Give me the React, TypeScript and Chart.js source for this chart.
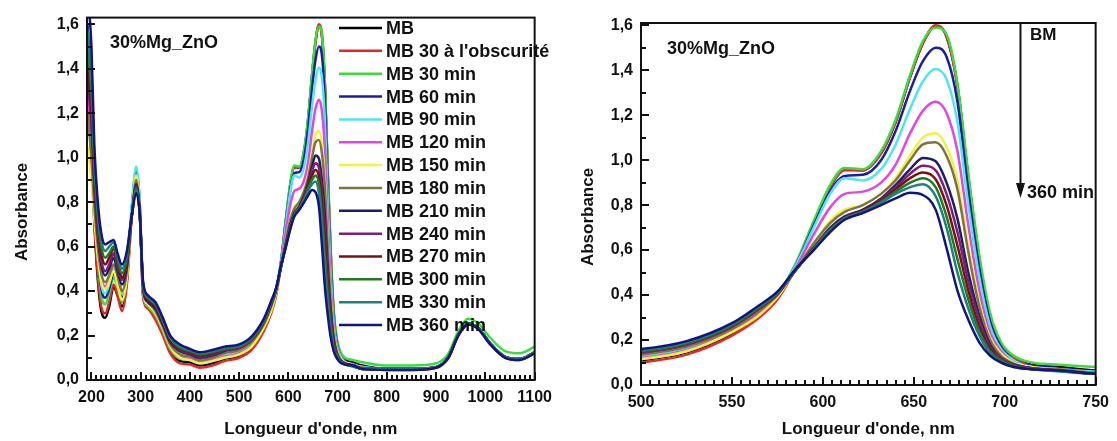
import React, { useEffect, useRef } from "react";
import { Chart, registerables } from "chart.js";

Chart.register(...registerables);

const FONT = '"Liberation Sans", Arial, Helvetica, sans-serif';

// Wavelength grid (nm)
const WAVELENGTHS = [
  192, 200, 206, 213, 220, 228, 236, 245, 253, 262, 272, 282, 291, 298, 305, 315, 330, 345, 360, 380, 400, 420, 445, 470,
  500, 525, 550, 565, 575, 585, 595, 604, 612, 622, 632, 640, 648, 655, 662, 668, 674, 680, 686, 692, 698, 705, 715, 730, 750,
  800, 850, 900, 925, 945, 965, 985, 1010, 1040, 1070, 1100,
];

const SERIES_LABELS = [
  "MB",
  "MB 30 à l'obscurité",
  "MB 30 min",
  "MB 60 min",
  "MB 90 min",
  "MB 120 min",
  "MB 150 min",
  "MB 180 min",
  "MB 210 min",
  "MB 240 min",
  "MB 270 min",
  "MB 300 min",
  "MB 330 min",
  "MB 360 min",
];

const SERIES_COLORS = [
  "#000000",
  "#e8262a",
  "#3ddc3d",
  "#1c1ca8",
  "#4fe6f0",
  "#e544e0",
  "#f2f23c",
  "#7d7443",
  "#1e1e66",
  "#7d1d7d",
  "#7a1010",
  "#217a21",
  "#1f8080",
  "#14147e",
];

const MB_0 = [
  1.3, 1.0, 0.7, 0.45, 0.31, 0.28, 0.33, 0.42, 0.38, 0.33, 0.45, 0.75, 0.93, 0.78, 0.38, 0.33, 0.28, 0.21, 0.13, 0.085, 0.08, 0.065, 0.075, 0.095,
  0.11, 0.145, 0.23, 0.31, 0.39, 0.53, 0.72, 0.88, 0.96, 0.955, 1.03, 1.17, 1.37, 1.52, 1.595, 1.55, 1.33, 0.92, 0.56, 0.3, 0.18, 0.12, 0.09, 0.08, 0.065,
  0.05, 0.05, 0.058, 0.104, 0.204, 0.254, 0.234, 0.164, 0.104, 0.094, 0.124,
];
const MB_DARK30 = [
  1.38, 1.05, 0.72, 0.47, 0.33, 0.3, 0.35, 0.43, 0.38, 0.31, 0.43, 0.74, 0.94, 0.78, 0.37, 0.32, 0.27, 0.2, 0.12, 0.075, 0.07, 0.055, 0.065, 0.085,
  0.1, 0.135, 0.22, 0.3, 0.38, 0.52, 0.72, 0.88, 0.955, 0.955, 1.03, 1.17, 1.37, 1.52, 1.6, 1.55, 1.33, 0.92, 0.56, 0.3, 0.18, 0.12, 0.085, 0.07, 0.055,
  0.045, 0.045, 0.055, 0.1, 0.2, 0.25, 0.23, 0.16, 0.1, 0.09, 0.12,
];
const MB_30 = [
  1.55, 1.25, 0.85, 0.55, 0.38, 0.34, 0.39, 0.46, 0.42, 0.35, 0.47, 0.77, 0.95, 0.8, 0.39, 0.33, 0.29, 0.22, 0.14, 0.095, 0.09, 0.075, 0.085, 0.1,
  0.115, 0.15, 0.235, 0.32, 0.4, 0.54, 0.73, 0.89, 0.965, 0.96, 1.04, 1.18, 1.38, 1.53, 1.59, 1.56, 1.34, 0.94, 0.58, 0.32, 0.19, 0.13, 0.1, 0.09, 0.08,
  0.065, 0.065, 0.075, 0.12, 0.22, 0.275, 0.255, 0.19, 0.13, 0.12, 0.15,
];
const MB_60 = [
  1.6, 1.3, 0.9, 0.58, 0.41, 0.37, 0.41, 0.48, 0.44, 0.37, 0.48, 0.77, 0.94, 0.8, 0.4, 0.34, 0.3, 0.23, 0.15, 0.1, 0.095, 0.08, 0.09, 0.105,
  0.12, 0.155, 0.24, 0.32, 0.4, 0.53, 0.71, 0.86, 0.93, 0.935, 1.0, 1.13, 1.31, 1.44, 1.5, 1.46, 1.26, 0.86, 0.52, 0.28, 0.17, 0.11, 0.085, 0.075, 0.06,
  0.05, 0.05, 0.058, 0.104, 0.204, 0.254, 0.234, 0.164, 0.104, 0.094, 0.124,
];
const MB_90 = [
  1.5, 1.25, 0.9, 0.6, 0.43, 0.39, 0.43, 0.5, 0.46, 0.39, 0.5, 0.79, 0.96, 0.81, 0.4, 0.34, 0.3, 0.23, 0.15, 0.1, 0.095, 0.08, 0.09, 0.11,
  0.125, 0.16, 0.24, 0.32, 0.4, 0.53, 0.7, 0.85, 0.92, 0.91, 0.96, 1.07, 1.23, 1.35, 1.405, 1.36, 1.17, 0.8, 0.48, 0.26, 0.16, 0.11, 0.08, 0.07, 0.06,
  0.05, 0.05, 0.058, 0.104, 0.204, 0.254, 0.234, 0.164, 0.104, 0.094, 0.124,
];
const MB_120 = [
  1.3, 1.1, 0.82, 0.6, 0.46, 0.42, 0.46, 0.52, 0.47, 0.4, 0.49, 0.74, 0.88, 0.76, 0.4, 0.34, 0.3, 0.23, 0.15, 0.1, 0.095, 0.08, 0.09, 0.105,
  0.12, 0.155, 0.24, 0.32, 0.4, 0.52, 0.67, 0.79, 0.85, 0.86, 0.9, 0.98, 1.12, 1.22, 1.26, 1.21, 1.04, 0.71, 0.42, 0.23, 0.15, 0.1, 0.08, 0.07, 0.055,
  0.05, 0.05, 0.058, 0.104, 0.204, 0.254, 0.234, 0.164, 0.104, 0.094, 0.124,
];
const MB_150 = [
  1.05, 0.9, 0.72, 0.55, 0.44, 0.41, 0.44, 0.49, 0.43, 0.36, 0.46, 0.74, 0.92, 0.78, 0.4, 0.34, 0.3, 0.23, 0.15, 0.1, 0.09, 0.075, 0.085, 0.1,
  0.115, 0.15, 0.235, 0.31, 0.39, 0.51, 0.63, 0.73, 0.78, 0.8, 0.85, 0.92, 1.02, 1.1, 1.12, 1.06, 0.91, 0.62, 0.37, 0.21, 0.14, 0.1, 0.08, 0.07, 0.055,
  0.05, 0.05, 0.058, 0.104, 0.204, 0.254, 0.234, 0.164, 0.104, 0.094, 0.124,
];
const MB_180 = [
  1.2, 1.0, 0.78, 0.6, 0.48, 0.44, 0.47, 0.52, 0.47, 0.4, 0.49, 0.74, 0.9, 0.77, 0.41, 0.35, 0.31, 0.24, 0.16, 0.115, 0.105, 0.09, 0.1, 0.12,
  0.135, 0.17, 0.25, 0.33, 0.4, 0.51, 0.63, 0.72, 0.77, 0.8, 0.85, 0.91, 1.0, 1.07, 1.08, 1.02, 0.87, 0.59, 0.35, 0.2, 0.13, 0.095, 0.075, 0.07, 0.055,
  0.05, 0.05, 0.058, 0.104, 0.204, 0.254, 0.234, 0.164, 0.104, 0.094, 0.124,
];
const MB_210 = [
  1.45, 1.2, 0.88, 0.65, 0.52, 0.47, 0.5, 0.55, 0.49, 0.43, 0.51, 0.74, 0.88, 0.76, 0.41, 0.35, 0.32, 0.25, 0.17, 0.13, 0.115, 0.1, 0.11, 0.13,
  0.145, 0.18, 0.26, 0.34, 0.405, 0.51, 0.61, 0.7, 0.75, 0.78, 0.83, 0.89, 0.96, 1.01, 0.995, 0.9, 0.74, 0.5, 0.31, 0.18, 0.12, 0.09, 0.075, 0.065, 0.05,
  0.05, 0.05, 0.058, 0.104, 0.204, 0.254, 0.234, 0.164, 0.104, 0.094, 0.124,
];
const MB_240 = [
  1.35, 1.15, 0.88, 0.67, 0.54, 0.49, 0.52, 0.57, 0.51, 0.45, 0.53, 0.74, 0.87, 0.76, 0.42, 0.36, 0.33, 0.26, 0.18, 0.135, 0.12, 0.105, 0.115, 0.135,
  0.145, 0.18, 0.26, 0.34, 0.405, 0.51, 0.61, 0.695, 0.745, 0.775, 0.825, 0.88, 0.94, 0.975, 0.955, 0.85, 0.68, 0.46, 0.29, 0.17, 0.12, 0.09, 0.075, 0.065, 0.05,
  0.05, 0.05, 0.058, 0.104, 0.204, 0.254, 0.234, 0.164, 0.104, 0.094, 0.124,
];
const MB_270 = [
  1.42, 1.2, 0.92, 0.7, 0.57, 0.52, 0.55, 0.59, 0.53, 0.46, 0.54, 0.74, 0.86, 0.75, 0.42, 0.36, 0.33, 0.26, 0.18, 0.14, 0.125, 0.11, 0.12, 0.14,
  0.15, 0.185, 0.265, 0.345, 0.41, 0.51, 0.61, 0.69, 0.745, 0.775, 0.82, 0.87, 0.92, 0.945, 0.915, 0.8, 0.62, 0.42, 0.26, 0.16, 0.11, 0.085, 0.07, 0.065, 0.05,
  0.05, 0.05, 0.058, 0.104, 0.204, 0.254, 0.234, 0.164, 0.104, 0.094, 0.124,
];
const MB_300 = [
  1.5, 1.3, 0.96, 0.73, 0.6, 0.55, 0.57, 0.6, 0.54, 0.48, 0.55, 0.74, 0.86, 0.75, 0.43, 0.37, 0.34, 0.27, 0.19, 0.145, 0.13, 0.115, 0.125, 0.14,
  0.15, 0.185, 0.265, 0.345, 0.41, 0.51, 0.605, 0.69, 0.74, 0.77, 0.815, 0.86, 0.9, 0.92, 0.88, 0.75, 0.56, 0.38, 0.24, 0.15, 0.11, 0.085, 0.07, 0.065, 0.05,
  0.05, 0.05, 0.058, 0.104, 0.204, 0.254, 0.234, 0.164, 0.104, 0.094, 0.124,
];
const MB_330 = [
  1.58, 1.35, 1.0, 0.76, 0.63, 0.58, 0.6, 0.62, 0.56, 0.5, 0.57, 0.74, 0.85, 0.75, 0.43, 0.37, 0.34, 0.27, 0.19, 0.15, 0.135, 0.12, 0.13, 0.145,
  0.155, 0.19, 0.27, 0.35, 0.41, 0.515, 0.605, 0.685, 0.74, 0.77, 0.81, 0.85, 0.88, 0.893, 0.84, 0.7, 0.5, 0.34, 0.22, 0.14, 0.1, 0.08, 0.07, 0.06, 0.05,
  0.05, 0.05, 0.058, 0.104, 0.204, 0.254, 0.234, 0.164, 0.104, 0.094, 0.124,
];
const MB_360 = [
  1.75, 1.5, 1.05, 0.8, 0.66, 0.61, 0.62, 0.63, 0.57, 0.52, 0.58, 0.74, 0.84, 0.75, 0.44, 0.38, 0.35, 0.28, 0.2, 0.16, 0.14, 0.125, 0.135, 0.15,
  0.16, 0.195, 0.275, 0.355, 0.415, 0.515, 0.6, 0.68, 0.735, 0.765, 0.8, 0.83, 0.855, 0.845, 0.78, 0.61, 0.42, 0.29, 0.19, 0.13, 0.1, 0.08, 0.07, 0.065, 0.05,
  0.045, 0.045, 0.055, 0.1, 0.2, 0.25, 0.23, 0.16, 0.1, 0.09, 0.12,
];

const SERIES_VALUES = [
  MB_0, MB_DARK30, MB_30, MB_60, MB_90, MB_120, MB_150, MB_180, MB_210, MB_240, MB_270, MB_300, MB_330, MB_360,
];

const LEFT_X_TICKS = [200, 300, 400, 500, 600, 700, 800, 900, 1000, 1100];
const RIGHT_X_TICKS = [500, 550, 600, 650, 700, 750];
const Y_TICKS = [0, 0.2, 0.4, 0.6, 0.8, 1.0, 1.2, 1.4, 1.6];

const SAMPLE_LABEL = "30%Mg_ZnO";
const X_TITLE = "Longueur d'onde, nm";
const Y_TITLE = "Absorbance";
const ARROW_START = "BM";
const ARROW_END = "360 min";

type Spec = {
  offsetX: number;
  width: number;
  height: number;
  area: { left: number; top: number; right: number; bottom: number };
  xMin: number;
  xMax: number;
  yMax: number;
  xTicks: number[];
  xMinor: number;
  yTitle: { x: number; y: number };
  sample: { x: number; y: number };
  legend: boolean;
  arrow: boolean;
};

const LEFT_SPEC: Spec = {
  offsetX: 0,
  width: 560,
  height: 441,
  area: { left: 87, top: 15, right: 537, bottom: 380 },
  xMin: 191,
  xMax: 1100,
  yMax: 1.63,
  xTicks: LEFT_X_TICKS,
  xMinor: 10,
  yTitle: { x: 22, y: 212 },
  sample: { x: 110, y: 43 },
  legend: true,
  arrow: false,
};

const RIGHT_SPEC: Spec = {
  offsetX: 560,
  width: 557,
  height: 441,
  area: { left: 81, top: 23, right: 541, bottom: 385 },
  xMin: 500,
  xMax: 750,
  yMax: 1.61,
  xTicks: RIGHT_X_TICKS,
  xMinor: 5,
  yTitle: { x: 28, y: 217 },
  sample: { x: 107, y: 49 },
  legend: false,
  arrow: true,
};

const fmtComma = (v: number) => Number(v).toFixed(1).replace(".", ",");

function drawTicks(chart: any, spec: Spec) {
  const ctx: CanvasRenderingContext2D = chart.ctx;
  const area = chart.chartArea;
  const xs = chart.scales.x;
  const ys = chart.scales.y;
  ctx.save();
  ctx.fillStyle = "#111111";
  const first = Math.ceil(spec.xMin / spec.xMinor) * spec.xMinor;
  for (let v = first; v <= spec.xMax; v += spec.xMinor) {
    const px = Math.round(xs.getPixelForValue(v));
    const len = spec.xTicks.indexOf(v) >= 0 ? 8 : 5;
    ctx.fillRect(px - 1, area.bottom - len, 2, len);
  }
  for (let k = 0; k <= Math.floor(spec.yMax * 10 + 1e-6); k++) {
    const py = Math.round(ys.getPixelForValue(k / 10));
    const len = k % 2 === 0 ? 8 : 5;
    ctx.fillRect(area.left, py - 1, len, 2);
  }
  ctx.restore();
}

function decorPlugin(spec: Spec) {
  return {
    id: "panelDecor",
    afterDraw(chart: any) {
      drawTicks(chart, spec);
      const ctx: CanvasRenderingContext2D = chart.ctx;
      const { left, top, right, bottom } = chart.chartArea;
      ctx.save();
      ctx.strokeStyle = "#111111";
      ctx.fillStyle = "#111111";
      ctx.lineWidth = 2;
      ctx.strokeRect(left, top, right - left, bottom - top);

      ctx.font = `bold 17px ${FONT}`;
      ctx.textAlign = "center";
      ctx.textBaseline = "middle";
      ctx.save();
      ctx.translate(spec.yTitle.x, spec.yTitle.y);
      ctx.rotate(-Math.PI / 2);
      ctx.fillText(Y_TITLE, 0, 0);
      ctx.restore();

      ctx.font = `bold 18px ${FONT}`;
      ctx.textAlign = "left";
      ctx.textBaseline = "middle";
      ctx.fillText(SAMPLE_LABEL, spec.sample.x, spec.sample.y);

      if (spec.legend) {
        const y0 = 28;
        const dy = 22.85;
        chart.data.datasets.forEach((ds: any, i: number) => {
          const y = y0 + i * dy;
          ctx.strokeStyle = ds.borderColor;
          ctx.lineWidth = 2.5;
          ctx.beginPath();
          ctx.moveTo(339, y);
          ctx.lineTo(382, y);
          ctx.stroke();
          ctx.fillStyle = "#111111";
          ctx.font = `bold 18px ${FONT}`;
          ctx.fillText(ds.label, 386, y + 1);
        });
      }

      if (spec.arrow) {
        const ax = 460.5;
        ctx.strokeStyle = "#111111";
        ctx.fillStyle = "#111111";
        ctx.lineWidth = 2;
        ctx.beginPath();
        ctx.moveTo(ax, top);
        ctx.lineTo(ax, 186);
        ctx.stroke();
        ctx.beginPath();
        ctx.moveTo(ax - 4.5, 183);
        ctx.lineTo(ax + 4.5, 183);
        ctx.lineTo(ax, 198);
        ctx.closePath();
        ctx.fill();
        ctx.font = `bold 17px ${FONT}`;
        ctx.fillText(ARROW_START, 470, 35);
        ctx.font = `bold 18px ${FONT}`;
        ctx.fillText(ARROW_END, 467, 193);
      }
      ctx.restore();
    },
  };
}

function buildConfig(spec: Spec): any {
  const datasets = SERIES_VALUES.map((vals, i) => ({
    label: SERIES_LABELS[i],
    data: WAVELENGTHS.map((x, j) => ({ x, y: vals[j] })),
    borderColor: SERIES_COLORS[i],
    backgroundColor: SERIES_COLORS[i],
    borderWidth: 2.5,
    pointRadius: 0,
    pointHoverRadius: 0,
    fill: false,
    cubicInterpolationMode: "monotone",
    order: SERIES_VALUES.length - 1 - i,
  }));
  const tickFont = { family: FONT, size: 16, weight: "bold" as const };
  return {
    type: "line",
    data: { datasets },
    options: {
      responsive: false,
      animation: false,
      devicePixelRatio: 1,
      layout: {
        padding: { left: 0, top: spec.area.top, right: spec.width - spec.area.right, bottom: 0 },
      },
      plugins: { legend: { display: false }, tooltip: { enabled: false } },
      scales: {
        x: {
          type: "linear",
          min: spec.xMin,
          max: spec.xMax,
          afterBuildTicks: (s: any) => {
            s.ticks = spec.xTicks.map((v) => ({ value: v }));
          },
          afterFit: (s: any) => {
            s.height = spec.height - spec.area.bottom;
          },
          grid: { display: false, drawTicks: false },
          border: { display: false },
          ticks: {
            font: tickFont,
            color: "#111111",
            padding: 8,
            maxRotation: 0,
            autoSkip: false,
            callback: (v: any) => String(v),
          },
          title: {
            display: true,
            text: X_TITLE,
            color: "#111111",
            font: { family: FONT, size: 17, weight: "bold" },
            padding: { top: 0, bottom: 1 },
          },
        },
        y: {
          type: "linear",
          min: 0,
          max: spec.yMax,
          afterBuildTicks: (s: any) => {
            s.ticks = Y_TICKS.map((v) => ({ value: v }));
          },
          afterFit: (s: any) => {
            s.width = spec.area.left;
          },
          grid: { display: false, drawTicks: false },
          border: { display: false },
          ticks: {
            font: tickFont,
            color: "#111111",
            padding: 8,
            autoSkip: false,
            callback: (v: any) => fmtComma(v),
          },
          title: { display: false },
        },
      },
    },
    plugins: [decorPlugin(spec)],
  };
}

function Panel({ spec }: { spec: Spec }) {
  const ref = useRef<HTMLCanvasElement>(null);
  useEffect(() => {
    if (!ref.current) return;
    const chart = new Chart(ref.current, buildConfig(spec));
    return () => chart.destroy();
  }, [spec]);
  return (
    <canvas
      ref={ref}
      width={spec.width}
      height={spec.height}
      style={{ position: "absolute", left: spec.offsetX, top: 0, width: spec.width, height: spec.height }}
    />
  );
}

export default function App() {
  return (
    <div style={{ position: "absolute", left: 0, top: 0, width: 1117, height: 441, background: "#fff", overflow: "hidden" }}>
      <Panel spec={LEFT_SPEC} />
      <Panel spec={RIGHT_SPEC} />
    </div>
  );
}
